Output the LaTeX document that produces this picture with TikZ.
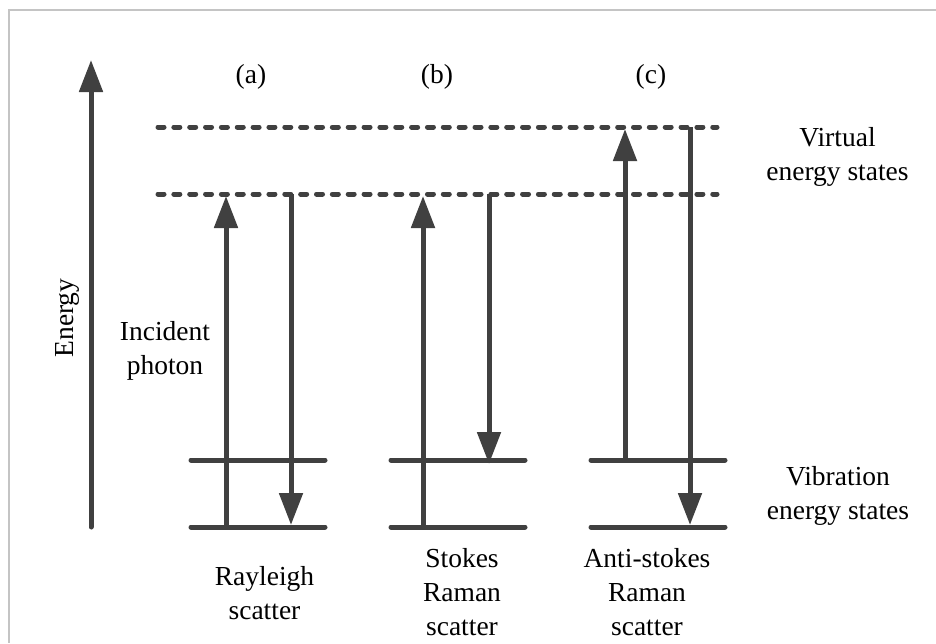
\documentclass[tikz,border=0pt]{standalone}
\usepackage{fontspec}
\setmainfont{Liberation Serif}
\definecolor{ink}{HTML}{404040}
\definecolor{framegray}{HTML}{C4C4C4}
\usetikzlibrary{arrows.meta}
\tikzset{x=1pt,y=-1pt,
 lvl/.style={draw=ink,line width=5pt,line cap=round},
 virt/.style={draw=ink,line width=5pt,line cap=round,dash pattern=on 6pt off 9.85pt},
 arr/.style={draw=ink,line width=5pt,-{Triangle[length=32pt,width=23pt]}},
 lab/.style={font=\fontsize{27.5}{34}\selectfont,align=center,text=black,inner sep=0pt}}
\begin{document}
\begin{tikzpicture}
\useasboundingbox (0,0) rectangle (936,643);
\fill[white] (0,0) rectangle (936,643);
\draw[draw=framegray,line width=2pt] (936,9.5) -- (9,9.5) -- (9,643);
\coordinate (ea) at (91,527); \coordinate (eb) at (91,60);
\draw[arr,line cap=round] (ea) -- (eb);
\coordinate (v1a) at (158,127); \coordinate (v1b) at (717,127);
\coordinate (v2a) at (158,194); \coordinate (v2b) at (717,194);
\draw[virt] (v1a) -- (v1b);
\draw[virt] (v2a) -- (v2b);
\foreach \n/\l/\r in {a/191/325,b/391/525,c/591/725}{
 \coordinate (\n u) at (\l,460); \coordinate (\n U) at (\r,460);
 \coordinate (\n d) at (\l,527); \coordinate (\n D) at (\r,527);
 \draw[lvl] (\n u) -- (\n U);
 \draw[lvl] (\n d) -- (\n D);
}
\coordinate (a1) at (226,527); \coordinate (a2) at (226,196);
\coordinate (a3) at (291,194); \coordinate (a4) at (291,525);
\coordinate (b1) at (423,527); \coordinate (b2) at (423,196);
\coordinate (b3) at (489,194); \coordinate (b4) at (489,464);
\coordinate (c1) at (625,460); \coordinate (c2) at (625,129);
\coordinate (c3) at (690,127); \coordinate (c4) at (690,525);
\draw[arr] (a1) -- (a2);
\draw[arr] (a3) -- (a4);
\draw[arr] (b1) -- (b2);
\draw[arr] (b3) -- (b4);
\draw[arr] (c1) -- (c2);
\draw[arr] (c3) -- (c4);
\node[lab] (la) at (251,77) {(a)};
\node[lab] (lb) at (437,77) {(b)};
\node[lab] (lc) at (651,77) {(c)};
\node[lab] (virtual) at (837.5,156.5) {Virtual\\energy states};
\node[lab] (vib) at (838,495.5) {Vibration\\energy states};
\node[lab,rotate=90] (energy) at (67,318) {Energy};
\node[lab] (inc) at (165,350.5) {Incident\\photon};
\node[lab] (ray) at (264.5,593) {Rayleigh\\scatter};
\node[lab] (sto) at (462,592) {Stokes\\Raman\\scatter};
\node[lab] (anti) at (647,592) {Anti-stokes\\Raman\\scatter};
\end{tikzpicture}
\end{document}
